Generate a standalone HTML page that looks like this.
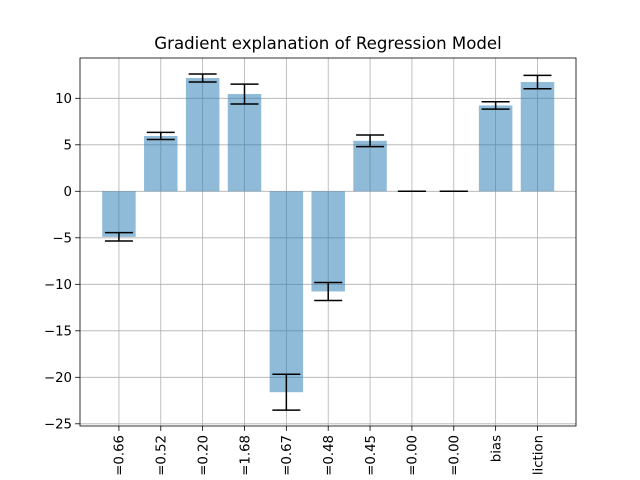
<!DOCTYPE html>
<html><head><meta charset="utf-8"><style>
body{margin:0;background:#fff;}
svg{display:block;font-family:"DejaVu Sans","Liberation Sans",sans-serif;}
</style></head><body>
<svg id="chart" width="640" height="480" xmlns="http://www.w3.org/2000/svg"></svg>
<script>
const categories=["=0.66","=0.52","=0.20","=1.68","=0.67","=0.48","=0.45","=0.00","=0.00","bias","liction"];
const values=[-4.9,5.95,12.18,10.46,-21.6,-10.77,5.43,0,0,9.23,11.75];
const errors=[0.45,0.38,0.43,1.07,1.93,0.97,0.63,0,0,0.4,0.72];
const yTicks=[-25,-20,-15,-10,-5,0,5,10];
const L=80,R=576,T=58,B=426;
const y0=191.3,pxPerUnit=9.3;
const y=v=>y0-v*pxPerUnit;
const step=(R-L)/(categories.length+0.85);
const x=i=>L+step*(0.93+i);
const bw=step*0.8;
const svg=document.getElementById('chart');
const NS="http://www.w3.org/2000/svg";
function mk(tag,attrs,parent){const e=document.createElementNS(NS,tag);for(const k in attrs)e.setAttribute(k,attrs[k]);(parent||svg).appendChild(e);return e;}
const grid=mk('g',{});


yTicks.forEach(t=>{mk('line',{x1:L,x2:R,y1:y(t),y2:y(t),stroke:'#b0b0b0','stroke-width':0.8},grid);});
categories.forEach((c,i)=>{mk('line',{x1:x(i),x2:x(i),y1:T,y2:B,stroke:'#b0b0b0','stroke-width':0.8},grid);});
values.forEach((v,i)=>{
 const r=mk('rect',{x:x(i)-bw/2,y:Math.min(y(v),y(0)),width:bw,height:Math.abs(y(v)-y(0)),fill:'#1f77b4','fill-opacity':0.5});
 
 
});
values.forEach((v,i)=>{
 const g=mk('g',{stroke:'#000','stroke-width':1.5});
 
 
 const e=errors[i];
 mk('line',{x1:x(i),x2:x(i),y1:y(v-e),y2:y(v+e)},g);
 mk('line',{x1:x(i)-14,x2:x(i)+14,y1:y(v-e),y2:y(v-e)},g);
 mk('line',{x1:x(i)-14,x2:x(i)+14,y1:y(v+e),y2:y(v+e)},g);
});
const frame=mk('rect',{x:L,y:T,width:R-L,height:B-T,fill:'none',stroke:'#000','stroke-width':0.8});


yTicks.forEach(t=>{
 mk('line',{x1:L-4.9,x2:L,y1:y(t),y2:y(t),stroke:'#000','stroke-width':0.8});
 const tx=mk('text',{x:L-8,y:y(t)+4.8,'text-anchor':'end','font-size':13.3,fill:'#000'});
 tx.textContent=t<0?'\u2212'+Math.abs(t):String(t);
 
 
});
categories.forEach((c,i)=>{
 mk('line',{x1:x(i),x2:x(i),y1:B,y2:B+4.9,stroke:'#000','stroke-width':0.8});
 const tx=mk('text',{x:0,y:0,'text-anchor':'end','font-size':13.3,fill:'#000',transform:`translate(${x(i)+4.8},${B+9}) rotate(-90)`});
 tx.textContent=c;
 
 
});
const title=mk('text',{x:(L+R)/2,y:49,'text-anchor':'middle','font-size':16.6,fill:'#000'});
title.textContent='Gradient explanation of Regression Model';


</script>
</body></html>
